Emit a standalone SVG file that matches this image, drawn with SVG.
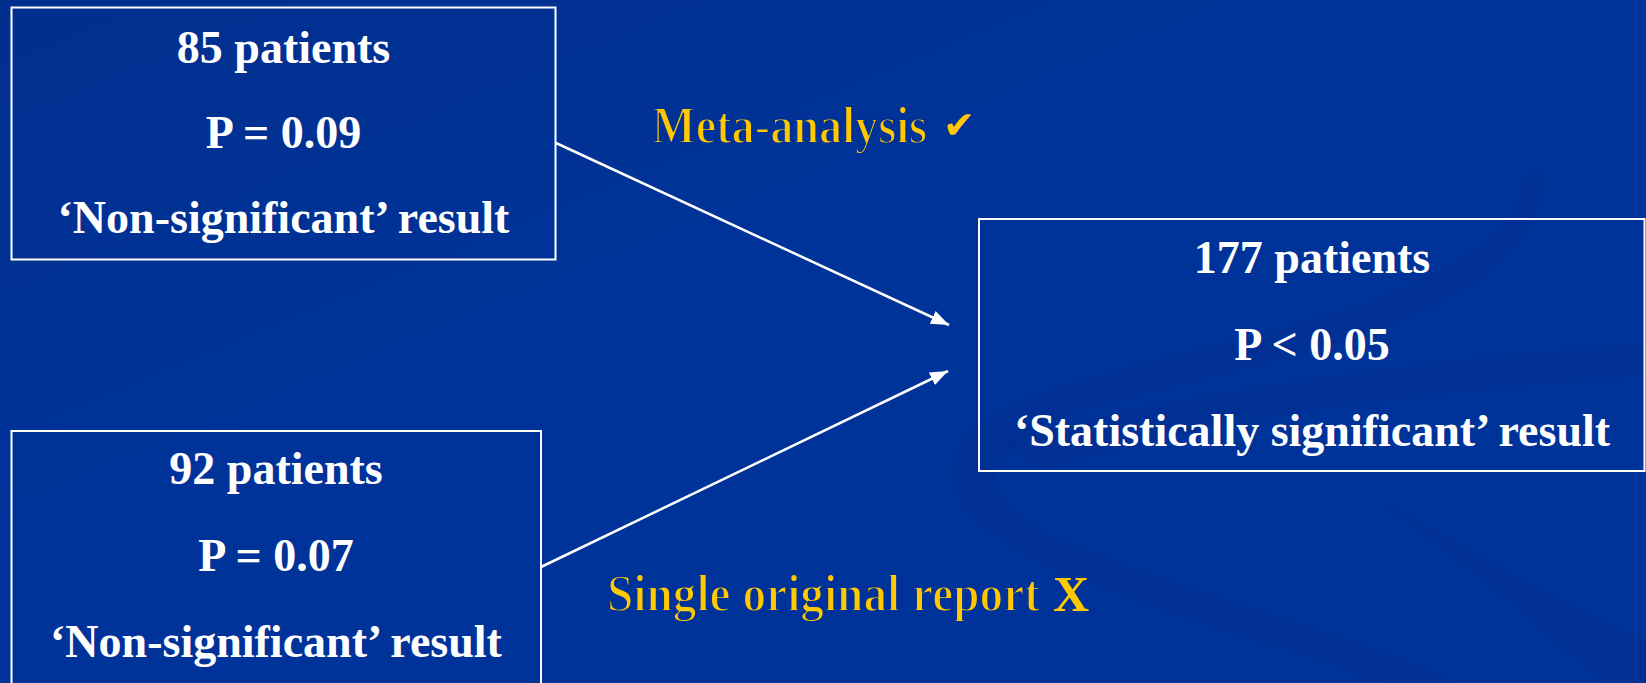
<svg xmlns="http://www.w3.org/2000/svg" width="1646" height="683" viewBox="0 0 1646 683">
  <defs>
    <linearGradient id="bg" x1="0" y1="0" x2="1" y2="1">
      <stop offset="0" stop-color="#002f8e"/>
      <stop offset="0.4" stop-color="#003399"/>
      <stop offset="1" stop-color="#003399"/>
    </linearGradient>
    <marker id="arr" markerUnits="userSpaceOnUse" markerWidth="20" markerHeight="14" refX="18" refY="7" orient="auto">
      <path d="M0,0 L18,7 L0,14 z" fill="#ffffff"/>
    </marker>
    <style>
      .box { fill: none; stroke: #ffffff; stroke-width: 2; }
      .bt { font-family: "Liberation Serif", "DejaVu Serif", serif; font-weight: bold; font-size: 46px; fill: #ffffff; text-anchor: middle; }
      .lbl { font-family: "Liberation Serif", serif; font-weight: bold; fill: #ffc800; stroke-width: 1.8px; stroke-linejoin: round; }
      .conn { stroke: #ffffff; stroke-width: 2.5; fill: none; marker-end: url(#arr); }
      .sw { fill: #002d8c; opacity: 0.4; }
    </style>
  </defs>
  <rect x="0" y="0" width="1646" height="683" fill="url(#bg)"/>
  <g id="background-swoosh">
    <path class="sw" d="M1530,168 C1510,300 1250,330 1050,390 C900,440 930,520 1080,580 C1250,640 1330,660 1380,683 L1450,683 C1380,640 1200,600 1060,540 C960,490 980,440 1100,405 C1300,350 1530,320 1545,175 Z"/>
    <path class="sw" d="M1000,440 C1150,400 1400,360 1646,345 L1646,375 C1420,390 1200,420 1040,470 Z"/>
    <path class="sw" d="M1380,500 C1480,560 1580,610 1646,640 L1646,683 L1600,683 C1540,620 1460,560 1380,500 Z"/>
  </g>
  <g id="node-85">
    <rect class="box" x="11.5" y="7.5" width="544" height="252"/>
    <text class="bt" x="283.5" y="63">85 patients</text>
    <text class="bt" x="283.5" y="148">P = 0.09</text>
    <text class="bt" x="283.5" y="233">‘Non-significant’ result</text>
  </g>
  <g id="node-92">
    <rect class="box" x="11.5" y="431" width="529.5" height="260"/>
    <text class="bt" x="276" y="484">92 patients</text>
    <text class="bt" x="276" y="571">P = 0.07</text>
    <text class="bt" x="276" y="657">‘Non-significant’ result</text>
  </g>
  <g id="node-177">
    <rect class="box" x="979" y="219" width="665.5" height="252"/>
    <text class="bt" x="1312" y="273">177 patients</text>
    <text class="bt" x="1312" y="360">P &lt; 0.05</text>
    <text class="bt" x="1312" y="446">‘Statistically significant’ result</text>
  </g>
  <g id="connectors">
    <line class="conn" x1="556" y1="143" x2="949" y2="325"/>
    <line class="conn" x1="541" y1="567" x2="948" y2="371"/>
  </g>
  <g id="labels">
    <text class="lbl" x="652" y="143" font-size="52" stroke="#003296" textLength="275" lengthAdjust="spacingAndGlyphs">Meta-analysis</text>
    <text x="943" y="138" fill="#ffc800" font-family="DejaVu Sans, sans-serif" font-size="38">✔</text>
    <text class="lbl" x="607" y="611" font-size="52" stroke="#003399" textLength="433" lengthAdjust="spacingAndGlyphs">Single original report</text>
    <text x="1053" y="611" fill="#ffc800" font-family="Liberation Serif, serif" font-weight="bold" font-size="50">X</text>
  </g>
</svg>
